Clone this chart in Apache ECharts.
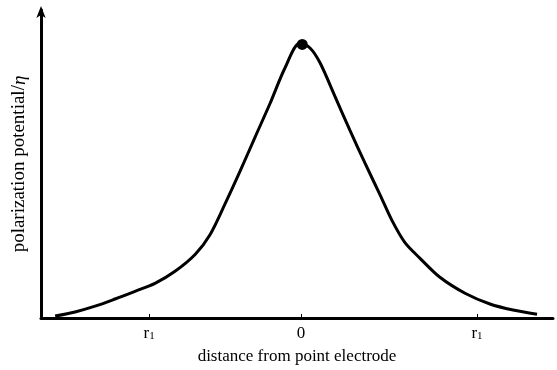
<!DOCTYPE html>
<html>
<head>
<meta charset="utf-8">
<script src="https://cdn.jsdelivr.net/npm/echarts@6/dist/echarts.min.js"></script>
<style>
  html, body { margin: 0; padding: 0; background: #fff; }
  #chart { width: 557px; height: 370px; }
</style>
</head>
<body>
<div id="chart"></div>
<script>
// distance (left r1 = -1) and relative potential (peak = 1)
var distance = [-1.618, -1.487, -1.355, -1.224, -1.092, -0.961, -0.829, -0.697, -0.599, -0.500, -0.401, -0.303, -0.204, -0.105, -0.007,
                0.059, 0.125, 0.224, 0.322, 0.421, 0.520, 0.599, 0.684, 0.783, 0.914, 1.079, 1.243, 1.395, 1.553];
var potential = [0.007, 0.022, 0.043, 0.069, 0.097, 0.126, 0.170, 0.231, 0.303, 0.415, 0.534, 0.657, 0.780, 0.910, 1.0,
                 0.982, 0.928, 0.805, 0.682, 0.563, 0.448, 0.354, 0.274, 0.217, 0.148, 0.090, 0.051, 0.029, 0.014];
var peak = [0.008, 0.995];
var tickValues = [-1, 0, 1.158];
var tickLabels = ['r1', '0', 'r1'];

var myChart = echarts.init(document.getElementById('chart'));
var serif = 'Liberation Serif';

var lineData = distance.map(function (d, i) { return [d, potential[i]]; });

var option = {
    animation: false,
    grid: { left: 41, right: 4, top: 10, bottom: 50 },
    xAxis: {
        type: 'value',
        min: -1.711,
        max: 1.658,
        name: 'distance from point electrode',
        nameLocation: 'middle',
        nameGap: 30,
        nameTextStyle: { fontFamily: serif, fontSize: 17, color: '#000' },
        splitLine: { show: false },
        axisLine: { show: true, onZero: false, lineStyle: { color: '#000', width: 3 } },
        axisTick: {
            show: true, inside: true, length: 4,
            customValues: tickValues,
            lineStyle: { color: '#000', width: 1 }
        },
        axisLabel: {
            customValues: tickValues,
            margin: 7,
            formatter: function (v) {
                var idx = tickValues.indexOf(v);
                var t = idx >= 0 ? tickLabels[idx] : '';
                return t === 'r1' ? '{r|r}{s|1}' : '{r|' + t + '}';
            },
            rich: {
                r: { fontFamily: serif, fontSize: 17, color: '#000' },
                s: { fontFamily: serif, fontSize: 11, color: '#000', verticalAlign: 'bottom', padding: [6, 0, 0, 0] }
            }
        }
    },
    yAxis: {
        type: 'value',
        min: 0,
        max: 1.12,
        name: 'polarization potential/{i|η}',
        nameLocation: 'middle',
        nameGap: 12,
        nameRotate: 90,
        nameTextStyle: {
            fontFamily: serif, fontSize: 19, color: '#000',
            rich: { i: { fontFamily: serif, fontSize: 19, fontStyle: 'italic', color: '#000' } }
        },
        splitLine: { show: false },
        axisTick: { show: false },
        axisLabel: { show: false },
        axisLine: {
            show: true,
            onZero: false,
            symbol: ['none', 'arrow'],
            symbolSize: [7, 12],
            symbolOffset: [0, 4],
            lineStyle: { color: '#000', width: 3 }
        }
    },
    series: [
        {
            type: 'line',
            data: lineData,
            smooth: 0.3,
            showSymbol: false,
            lineStyle: { color: '#000', width: 3 }
        },
        {
            type: 'scatter',
            data: [peak],
            symbolSize: 11,
            itemStyle: { color: '#000', opacity: 1 }
        }
    ]
};
myChart.setOption(option);
</script>
</body>
</html>
